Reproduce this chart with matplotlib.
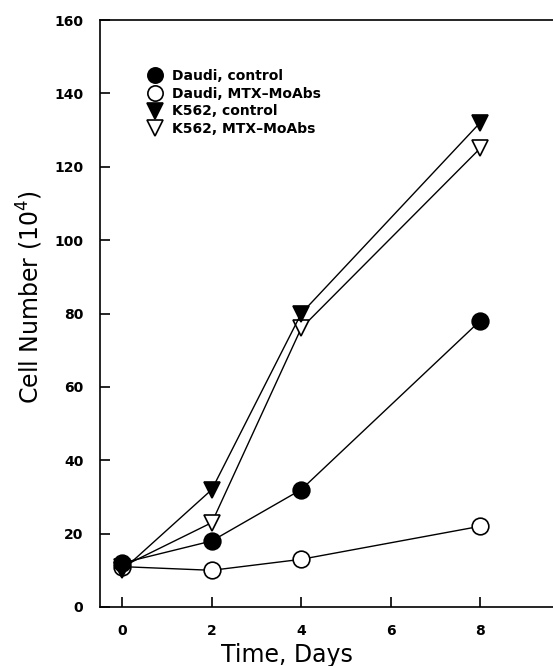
import matplotlib
matplotlib.use("Agg")
import matplotlib.pyplot as plt

days = [0, 2, 4, 8]
daudi_ctrl = [12, 18, 32, 78]
daudi_mtx = [11, 10, 13, 22]
k562_ctrl = [10, 32, 80, 132]
k562_mtx = [11, 23, 76, 125]

labels = ["Daudi, control", "Daudi, MTX\u2013MoAbs", "K562, control", "K562, MTX\u2013MoAbs"]

fig = plt.figure(figsize=(5.53, 6.66), dpi=100)
ax = fig.add_axes([100 / 553, 1 - 607 / 666, 1 - 100 / 553, 587 / 666])

kw = dict(color="black", lw=1.0, ms=12, mew=1.2)
h2, = ax.plot(days, daudi_mtx, marker="o", mfc="white", mec="black", **kw)
h4, = ax.plot(days, k562_mtx, marker="v", mfc="white", mec="black", **kw)
h1, = ax.plot(days, daudi_ctrl, marker="o", mfc="black", mec="black", **kw)
h3, = ax.plot(days, k562_ctrl, marker="v", mfc="black", mec="black", **kw)

ax.set_xlim(-0.5, 9.63)
ax.set_ylim(0, 160)
ax.set_xticks([0, 2, 4, 6, 8])
ax.set_yticks(range(0, 161, 20))
ax.spines["right"].set_visible(False)
for s in ax.spines.values():
    s.set_linewidth(1.2)
ax.tick_params(direction="in", length=7, width=1.2, labelsize=10, pad=12)
for t in ax.get_xticklabels() + ax.get_yticklabels():
    t.set_fontweight("bold")

ax.set_xlabel("Time, Days", fontsize=17)
ax.set_ylabel("Cell Number (10$^4$)", fontsize=17)
ax.xaxis.set_label_coords(0.413, -0.062)
ax.yaxis.set_label_coords(-0.122, 0.528)

leg = ax.legend([h1, h2, h3, h4], labels, loc="upper left",
                bbox_to_anchor=(0.0905, 0.928), frameon=False, borderpad=0,
                handlelength=1.0, handletextpad=0.72, labelspacing=0.26,
                prop={"size": 10, "weight": "bold"})
for line in leg.get_lines():
    line.set_linestyle("none")
    line.set_markersize(11)

fig.savefig("out.png", dpi=100)
